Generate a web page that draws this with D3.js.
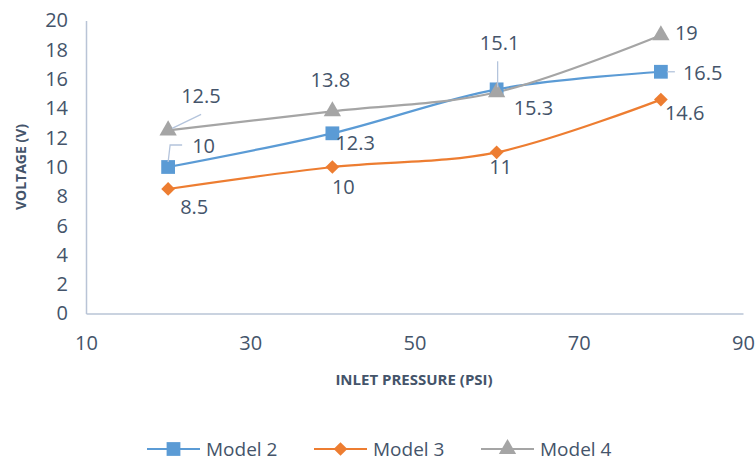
<!DOCTYPE html>
<html>
<head>
<meta charset="utf-8">
<script src="https://cdn.jsdelivr.net/npm/d3@7"></script>
<style>
  html, body { margin: 0; padding: 0; background: #fff; }
  svg { display: block; font-family: "Open Sans", "Noto Sans", sans-serif; }
</style>
</head>
<body>
<svg id="chart" width="756" height="461"></svg>
<script>
// Inlet pressure (PSI) readings shared by all models
const pressures = [20, 40, 60, 80];
const model2 = [10, 12.3, 15.3, 16.5];
const model3 = [8.5, 10, 11, 14.6];
const model4 = [12.5, 13.8, 15.1, 19];
const seriesNames = ["Model 2", "Model 3", "Model 4"];
const xTicks = [10, 30, 50, 70, 90];
const yTicks = [0, 2, 4, 6, 8, 10, 12, 14, 16, 18, 20];

const colors = { "Model 2": "#5b9bd5", "Model 3": "#ed7d31", "Model 4": "#a5a5a5" };
const symbols = { "Model 2": d3.symbolSquare, "Model 3": d3.symbolDiamond2, "Model 4": d3.symbolTriangle };
const symbolSize = { "Model 2": 190, "Model 3": 120, "Model 4": 130 };
const textColor = "#44546a";
const axisColor = "#b9c4d6";

const series = [
  { name: "Model 2", values: model2 },
  { name: "Model 3", values: model3 },
  { name: "Model 4", values: model4 }
];

// Data label offsets (dx, dy from the point, text-anchor) and optional leader lines
const labelPlacement = {
  "Model 2": [
    { dx: 24, dy: -21, anchor: "start", leader: [[14, -22], [2, -22], [0, -5]] },
    { dx: 3, dy: 10, anchor: "start" },
    { dx: 17, dy: 19, anchor: "start" },
    { dx: 22, dy: 1, anchor: "start", leader: [[14, 0], [6, 0]] }
  ],
  "Model 3": [
    { dx: 12, dy: 18, anchor: "start" },
    { dx: 11, dy: 20, anchor: "middle" },
    { dx: 4, dy: 15, anchor: "middle" },
    { dx: 4, dy: 13, anchor: "start" }
  ],
  "Model 4": [
    { dx: 13, dy: -34, anchor: "start", leader: [[33, -16], [4, -2]] },
    { dx: -2, dy: -31, anchor: "middle" },
    { dx: 3, dy: -49, anchor: "middle", leader: [[1, -31], [1, -5]] },
    { dx: 14, dy: -2, anchor: "start" }
  ]
};

const svg = d3.select("#chart");

const x = d3.scaleLinear().domain([10, 90]).range([86, 743]);
const y = d3.scaleLinear().domain([0, 20]).range([313.5, 20.5]);

// Axes
const xAxis = d3.axisBottom(x).tickValues(xTicks).tickSize(0).tickPadding(22).tickFormat(d3.format("d"));
const yAxis = d3.axisLeft(y).tickValues(yTicks).tickSize(0).tickPadding(18).tickFormat(d3.format("d"));

const gx = svg.append("g").attr("transform", `translate(0,${y(0)})`).call(xAxis);
const gy = svg.append("g").attr("transform", `translate(${x(10)},0)`).call(yAxis);
[gx, gy].forEach(g => {
  g.select(".domain").attr("stroke", axisColor).attr("stroke-width", 1.5);
  g.selectAll("text").attr("fill", textColor).attr("font-size", 20)
    .attr("font-family", "'Open Sans', 'Noto Sans', sans-serif");
});
gx.selectAll("text").attr("dy", "0.71em");

// Axis titles
svg.append("text")
  .attr("x", 414).attr("y", 380).attr("dy", "0.35em")
  .attr("text-anchor", "middle").attr("font-weight", "bold").attr("font-size", 15)
  .attr("fill", textColor).text("INLET PRESSURE (PSI)");
svg.append("text")
  .attr("transform", "translate(21,167) rotate(-90)").attr("dy", "0.35em")
  .attr("text-anchor", "middle").attr("font-weight", "bold").attr("font-size", 14)
  .attr("fill", textColor).text("VOLTAGE (V)");

// Lines
const line = d3.line()
  .x((d, i) => x(pressures[i]))
  .y(d => y(d))
  .curve(d3.curveCatmullRom.alpha(0));

const gSeries = svg.append("g");
series.forEach(s => {
  gSeries.append("path")
    .datum(s.values)
    .attr("d", line)
    .attr("fill", "none")
    .attr("stroke", colors[s.name])
    .attr("stroke-width", 2.2);
});

// Markers
series.forEach(s => {
  const sym = d3.symbol().type(symbols[s.name]).size(symbolSize[s.name]);
  gSeries.selectAll(null)
    .data(s.values)
    .join("path")
    .attr("transform", (d, i) => `translate(${x(pressures[i])},${y(d)})`)
    .attr("d", sym)
    .attr("fill", colors[s.name]);
});

// Data labels with leader lines
const gLabels = svg.append("g");
series.forEach(s => {
  s.values.forEach((v, i) => {
    const p = labelPlacement[s.name][i];
    const px = x(pressures[i]), py = y(v);
    if (p.leader) {
      gLabels.append("path")
        .attr("d", d3.line()(p.leader.map(([a, b]) => [px + a, py + b])))
        .attr("fill", "none").attr("stroke", "#b4c4dc").attr("stroke-width", 1.3);
    }
    gLabels.append("text")
      .attr("x", px + p.dx).attr("y", py + p.dy).attr("dy", "0.35em")
      .attr("text-anchor", p.anchor)
      .attr("font-size", 20).attr("fill", textColor)
      .text(d3.format("")(v));
  });
});

// Legend
const legendX = { "Model 2": 147, "Model 3": 314, "Model 4": 481 };
const legendY = 449;
const gLegend = svg.append("g");
seriesNames.forEach(name => {
  const lx = legendX[name];
  gLegend.append("line")
    .attr("x1", lx).attr("x2", lx + 53).attr("y1", legendY).attr("y2", legendY)
    .attr("stroke", colors[name]).attr("stroke-width", 2.2);
  gLegend.append("path")
    .attr("transform", `translate(${lx + 26.5},${legendY})`)
    .attr("d", d3.symbol().type(symbols[name]).size(symbolSize[name])())
    .attr("fill", colors[name]);
  gLegend.append("text")
    .attr("x", lx + 59).attr("y", legendY).attr("dy", "0.35em")
    .attr("font-size", 19).attr("fill", textColor).text(name);
});
</script>
</body>
</html>
